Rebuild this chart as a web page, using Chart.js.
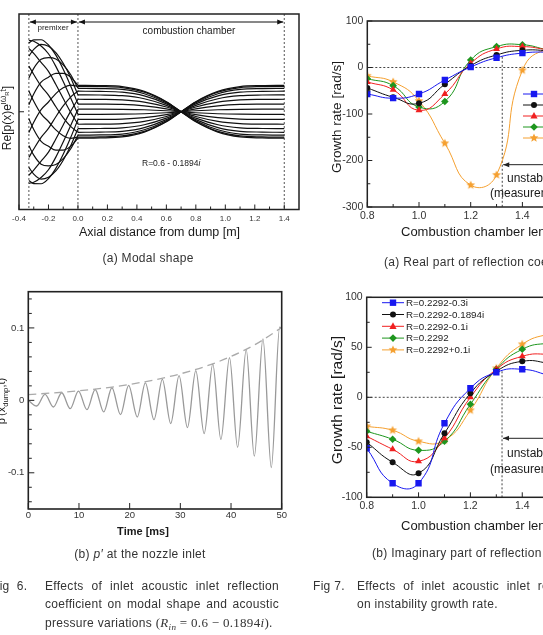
<!DOCTYPE html>
<html>
<head>
<meta charset="utf-8">
<script src="https://cdn.jsdelivr.net/npm/chart.js@4.4.1/dist/chart.umd.min.js"></script>
<style>
  body { margin: 0; width: 543px; height: 635px; overflow: hidden; position: relative; background: #fff;
         font-family: "Liberation Sans", Arial, sans-serif; color: #1a1a1a }
  canvas { position: absolute }
  .t { position: absolute; white-space: nowrap; line-height: 1; transform: translate(0, -50%) }
  .c { transform: translate(-50%, -50%) }
  .r { transform: translate(-50%, -50%) rotate(-90deg) }
  .cap { font-size: 12px; color: #333; letter-spacing: 0.3px }
  .j { text-align: justify; text-align-last: justify; white-space: normal }
  .m { font-family: "Liberation Serif", serif; font-size: 13px }
  sup, sub { font-size: 70%; line-height: 0 }
</style>
</head>
<body>
<canvas id="modal" width="300" height="240" style="left:0;top:0"></canvas>
<canvas id="pulse" width="300" height="250" style="left:0;top:280px"></canvas>
<canvas id="realPart" width="340" height="240" style="left:300px;top:0"></canvas>
<canvas id="imagPart" width="340" height="240" style="left:300px;top:285px"></canvas>

<!-- Fig 6 (a) -->
<div class="t c" style="left:53px;top:28px;font-size:8px">premixer</div>
<div class="t c" style="left:189px;top:30.5px;font-size:10px">combustion chamber</div>
<div class="t" style="left:142px;top:163px;font-size:8.5px">R=0.6 - 0.1894<i>i</i></div>
<div class="t r" style="left:7px;top:118px;font-size:12px">Re[p(x)e<sup>iω<sub>R</sub>t</sup>]</div>
<div class="t c" style="left:159.5px;top:232px;font-size:12.5px">Axial distance from dump [m]</div>
<div class="t c cap" style="left:148px;top:258px">(a) Modal shape</div>

<!-- Fig 6 (b) -->
<div class="t r" style="left:0.5px;top:401px;font-size:11px">p′(x<sub>dump</sub>,t)</div>
<div class="t c" style="left:143px;top:531px;font-size:11px;font-weight:bold">Time [ms]</div>
<div class="t c cap" style="left:140px;top:554px">(b) <i>p′</i> at the nozzle inlet</div>

<!-- Fig 7 (a) -->
<div class="t r" style="left:337px;top:117px;font-size:13.5px">Growth rate [rad/s]</div>
<div class="t" style="left:401px;top:231px;font-size:13px">Combustion chamber length [m]</div>
<div class="t" style="left:507px;top:178px;font-size:12px">unstable</div>
<div class="t" style="left:490px;top:193px;font-size:12px">(measurement)</div>
<div class="t cap" style="left:384px;top:262px">(a) Real part of reflection coefficient</div>

<!-- Fig 7 (b) -->
<div class="t r" style="left:337px;top:400px;font-size:15.5px">Growth rate [rad/s]</div>
<div class="t" style="left:401px;top:525px;font-size:13px">Combustion chamber length [m]</div>
<div class="t" style="left:507px;top:453px;font-size:12px">unstable</div>
<div class="t" style="left:490px;top:469px;font-size:12px">(measurement)</div>
<div class="t cap" style="left:372px;top:553px">(b) Imaginary part of reflection coefficient</div>

<!-- captions -->
<div class="t cap" style="left:-8px;top:586px">Fig&nbsp;&nbsp;6.</div>
<div class="t cap j" style="left:45px;top:586px;width:234px">Effects of inlet acoustic inlet reflection</div>
<div class="t cap j" style="left:45px;top:604px;width:234px">coefficient on modal shape and acoustic</div>
<div class="t cap" style="left:45px;top:622px">pressure variations <span class="m">(<i>R</i><sub><i>in</i></sub> = 0.6 − 0.1894<i>i</i>)</span>.</div>
<div class="t cap" style="left:313px;top:586px">Fig 7.</div>
<div class="t cap" style="left:357px;top:586px;word-spacing:4px">Effects of inlet acoustic inlet reflection coefficients</div>
<div class="t cap" style="left:357px;top:604px">on instability growth rate.</div>

<script>
// modal shape, Re[p(x) e^(i w t)] at 16 phases
const premixerX = [-0.333, -0.3, -0.25, -0.2, -0.15, -0.1, -0.05, 0]
const premixerCurves = [
  [0.995, 0.980, 0.914, 0.807, 0.631, 0.420, 0.194, -0.036],
  [0.882, 0.811, 0.687, 0.562, 0.379, 0.184, -0.005, -0.174],
  [0.635, 0.519, 0.356, 0.231, 0.069, -0.081, -0.204, -0.286],
  [0.290, 0.146, -0.030, -0.136, -0.253, -0.333, -0.370, -0.354],
  [-0.098, -0.247, -0.411, -0.481, -0.535, -0.534, -0.482, -0.368],
  [-0.471, -0.603, -0.729, -0.753, -0.735, -0.653, -0.519, -0.326],
  [-0.773, -0.868, -0.937, -0.911, -0.824, -0.674, -0.478, -0.235],
  [-0.957, -1.001, -1.002, -0.929, -0.787, -0.592, -0.363, -0.107],
  [-0.995, -0.980, -0.914, -0.807, -0.631, -0.420, -0.194, 0.036],
  [-0.882, -0.811, -0.687, -0.562, -0.379, -0.184, 0.005, 0.174],
  [-0.635, -0.519, -0.356, -0.231, -0.069, 0.081, 0.204, 0.286],
  [-0.290, -0.146, 0.030, 0.136, 0.253, 0.333, 0.370, 0.354],
  [0.098, 0.247, 0.411, 0.481, 0.535, 0.534, 0.482, 0.368],
  [0.471, 0.603, 0.729, 0.753, 0.735, 0.653, 0.519, 0.326],
  [0.773, 0.868, 0.937, 0.911, 0.824, 0.674, 0.478, 0.235],
  [0.957, 1.001, 1.002, 0.929, 0.787, 0.592, 0.363, 0.107]
]
const chamberX = [0, 0.15, 0.3, 0.45, 0.6, 0.7, 0.8, 0.95, 1.1, 1.25, 1.4]
const chamberCurves = [
  [-0.036, -0.036, -0.034, -0.028, -0.014, 0, 0.014, 0.028, 0.034, 0.036, 0.036],
  [-0.174, -0.172, -0.165, -0.134, -0.066, 0, 0.066, 0.134, 0.165, 0.172, 0.174],
  [-0.286, -0.283, -0.272, -0.220, -0.109, 0, 0.109, 0.220, 0.272, 0.283, 0.286],
  [-0.354, -0.350, -0.336, -0.273, -0.135, 0, 0.135, 0.273, 0.336, 0.350, 0.354],
  [-0.368, -0.364, -0.350, -0.283, -0.140, 0, 0.140, 0.283, 0.350, 0.364, 0.368],
  [-0.326, -0.323, -0.310, -0.251, -0.124, 0, 0.124, 0.251, 0.310, 0.323, 0.326],
  [-0.235, -0.233, -0.223, -0.181, -0.089, 0, 0.089, 0.181, 0.223, 0.233, 0.235],
  [-0.107, -0.106, -0.102, -0.082, -0.041, 0, 0.041, 0.082, 0.102, 0.106, 0.107],
  [0.036, 0.036, 0.034, 0.028, 0.014, 0, -0.014, -0.028, -0.034, -0.036, -0.036],
  [0.174, 0.172, 0.165, 0.134, 0.066, 0, -0.066, -0.134, -0.165, -0.172, -0.174],
  [0.286, 0.283, 0.272, 0.220, 0.109, 0, -0.109, -0.220, -0.272, -0.283, -0.286],
  [0.354, 0.350, 0.336, 0.273, 0.135, 0, -0.135, -0.273, -0.336, -0.350, -0.354],
  [0.368, 0.364, 0.350, 0.283, 0.140, 0, -0.140, -0.283, -0.350, -0.364, -0.368],
  [0.326, 0.323, 0.310, 0.251, 0.124, 0, -0.124, -0.251, -0.310, -0.323, -0.326],
  [0.235, 0.233, 0.223, 0.181, 0.089, 0, -0.089, -0.181, -0.223, -0.233, -0.235],
  [0.107, 0.106, 0.102, 0.082, 0.041, 0, -0.041, -0.082, -0.102, -0.106, -0.107]
]
const sectionBounds = [-0.333, 0, 1.4]
const modalXTicks = [-0.4, -0.2, 0, 0.2, 0.4, 0.6, 0.8, 1.0, 1.2, 1.4]
const modalXMinor = [-0.3, -0.1, 0.1, 0.3, 0.5, 0.7, 0.9, 1.1, 1.3]

// p' at the nozzle inlet
const pTime = [0, 1.65, 3.3, 4.96, 6.6, 8.27, 9.9, 11.57, 13.2, 14.88, 16.5, 18.19, 19.8, 21.5, 23.1, 24.8,
  26.45, 28.1, 29.75, 31.4, 33.05, 34.7, 36.4, 38.0, 39.7, 41.3, 43.0, 44.6, 46.3, 47.95, 49.6, 50]
const pValue = [0, -0.0078, 0.0083, -0.0092, 0.0105, -0.0115, 0.0128, -0.0128, 0.015, -0.016, 0.0174, -0.0197,
  0.0206, -0.023, 0.024, -0.0266, 0.029, -0.032, 0.034, -0.0376, 0.041, -0.0459, 0.050, -0.054, 0.059, -0.065,
  0.070, -0.077, 0.085, -0.0927, 0.101, 0.099]
const envTime = [0, 5, 10, 15, 20, 25, 30, 35, 40, 45, 50]
const envValue = [0.008, 0.0103, 0.0132, 0.017, 0.022, 0.0284, 0.0366, 0.047, 0.0606, 0.078, 0.1006]
const timeTicks = [0, 10, 20, 30, 40, 50]
const pTicks = [-0.1, 0, 0.1]
const pMinor = [-0.14, -0.12, -0.08, -0.06, -0.04, -0.02, 0.02, 0.04, 0.06, 0.08, 0.12, 0.14]

// growth rate vs combustion chamber length
const chamberLength = [0.8, 0.9, 1.0, 1.1, 1.2, 1.3, 1.4, 1.5, 1.6]
const realLabels = ['R=0.2-0.1894i', 'R=0.4-0.1894i', 'R=0.6-0.1894i', 'R=0.8-0.1894i', 'R=1.0-0.1894i']
const realBlue = [-57, -66, -57, -27, 1, 21, 31, 33, 30]
const realBlack = [-44, -64, -77, -36, 4, 27, 37, 36, 32]
const realRed = [-31, -48, -92, -57, 9, 40, 45, 38, 32]
const realGreen = [-24, -39, -85, -73, 16, 45, 49, 38, 31]
const realOrange = [-18, -31, -72, -163, -253, -231, -6, 40, 33]
const imagLabels = ['R=0.2292-0.3i', 'R=0.2292-0.1894i', 'R=0.2292-0.1i', 'R=0.2292', 'R=0.2292+0.1i']
const imagBlue = [-51, -86, -86, -26, 9, 25, 28, 22, 14]
const imagBlack = [-45, -65, -76, -36, 4, 26, 36, 34, 28]
const imagRed = [-39, -52, -64, -41, 0, 28, 41, 43, 40]
const imagGreen = [-34, -42, -53, -44, -7, 28, 48, 54, 54]
const imagOrange = [-29, -33, -44, -43, -13, 29, 53, 63, 66]
const lengthTicks = [0.8, 1.0, 1.2, 1.4, 1.6]
const lengthMinor = [0.9, 1.1, 1.3, 1.5]
const realTicks = [-300, -200, -100, 0, 100]
const realMinor = [-250, -150, -50, 50]
const imagTicks = [-100, -50, 0, 50, 100]
const imagMinor = [-75, -25, 25, 75]
const unstableFrom = 1.322

const base = {
  responsive: false, animation: false, devicePixelRatio: 1, events: [],
  plugins: { legend: { display: false }, tooltip: { enabled: false } }
}

function axis(min, max, ticks, size, fmt, pad, fit) {
  return {
    type: 'linear', min, max,
    grid: { display: false, drawTicks: false },
    border: { display: false },
    afterBuildTicks: s => { s.ticks = ticks.map(value => ({ value })) },
    afterFit: fit,
    ticks: { font: { family: 'Liberation Sans', size }, color: '#333', padding: pad,
             autoSkip: false, maxRotation: 0, callback: fmt }
  }
}

// box round the plot with inward tick marks
function frame(o) {
  return {
    id: 'frame',
    afterDatasetsDraw(chart) {
      const { ctx, chartArea: a, scales: { x, y } } = chart
      ctx.save()
      ctx.strokeStyle = '#222'
      ctx.lineWidth = 1
      const mark = (px, py, dx, dy) => { ctx.beginPath(); ctx.moveTo(px, py); ctx.lineTo(px + dx, py + dy); ctx.stroke() }
      ;(o.xMajor || []).forEach(v => mark(x.getPixelForValue(v), a.bottom, 0, -o.major))
      ;(o.xMinor || []).forEach(v => mark(x.getPixelForValue(v), a.bottom, 0, -o.minor))
      ;(o.yMajor || []).forEach(v => mark(a.left, y.getPixelForValue(v), o.major, 0))
      ;(o.yMinor || []).forEach(v => mark(a.left, y.getPixelForValue(v), o.minor, 0))
      ctx.lineWidth = o.width || 1.5
      ctx.strokeRect(a.left, a.top, a.right - a.left, a.bottom - a.top)
      ctx.restore()
    }
  }
}

function arrowHead(ctx, x, y, dir) {
  ctx.beginPath()
  ctx.moveTo(x, y)
  ctx.lineTo(x - dir * 6, y - 2.5)
  ctx.lineTo(x - dir * 6, y + 2.5)
  ctx.closePath()
  ctx.fill()
}

function starImage(color, r) {
  const c = document.createElement('canvas')
  const s = Math.ceil(r * 2 + 2)
  c.width = c.height = s
  const g = c.getContext('2d')
  g.fillStyle = color
  g.beginPath()
  for (let i = 0; i < 10; i++) {
    const ang = -Math.PI / 2 + i * Math.PI / 5
    const rr = i % 2 ? r * 0.45 : r
    g.lineTo(s / 2 + rr * Math.cos(ang), s / 2 + rr * Math.sin(ang))
  }
  g.closePath()
  g.fill()
  return c
}

function drawMarker(ctx, style, x, y, color) {
  if (style instanceof HTMLCanvasElement) { ctx.drawImage(style, x - style.width / 2, y - style.height / 2); return }
  ctx.fillStyle = color
  ctx.beginPath()
  if (style === 'rect') ctx.rect(x - 3.2, y - 3.2, 6.4, 6.4)
  else if (style === 'circle') ctx.arc(x, y, 3, 0, Math.PI * 2)
  else if (style === 'triangle') { ctx.moveTo(x, y - 4); ctx.lineTo(x + 3.6, y + 2.6); ctx.lineTo(x - 3.6, y + 2.6); ctx.closePath() }
  else if (style === 'rectRot') { ctx.moveTo(x, y - 3.8); ctx.lineTo(x + 3.8, y); ctx.lineTo(x, y + 3.8); ctx.lineTo(x - 3.8, y); ctx.closePath() }
  ctx.fill()
}

// ---------- Fig 6 (a) modal shape ----------
function curve(xs, ys) {
  return { data: xs.map((x, i) => ({ x, y: ys[i] })), borderColor: '#111', borderWidth: 1.2,
           pointRadius: 0, showLine: true, cubicInterpolationMode: 'monotone' }
}
const modalSets = premixerCurves.map(row => curve(premixerX, row))
  .concat(chamberCurves.map(row => curve(chamberX, row)))

const modalDecor = {
  id: 'modalDecor',
  beforeDatasetsDraw(chart) {
    const { ctx, chartArea: a, scales: { x } } = chart
    ctx.save()
    ctx.strokeStyle = '#555'
    ctx.lineWidth = 1
    ctx.setLineDash([2, 2])
    sectionBounds.forEach(v => {
      const px = x.getPixelForValue(v)
      ctx.beginPath(); ctx.moveTo(px, a.top); ctx.lineTo(px, a.bottom); ctx.stroke()
    })
    ctx.restore()
  },
  afterDatasetsDraw(chart) {
    const { ctx, chartArea: a, scales: { x } } = chart
    const y = a.top + 8
    ctx.save()
    ctx.strokeStyle = '#111'
    ctx.fillStyle = '#111'
    ctx.lineWidth = 1
    for (let i = 0; i < sectionBounds.length - 1; i++) {
      const x1 = x.getPixelForValue(sectionBounds[i]) + 1
      const x2 = x.getPixelForValue(sectionBounds[i + 1]) - 1
      ctx.beginPath(); ctx.moveTo(x1, y); ctx.lineTo(x2, y); ctx.stroke()
      arrowHead(ctx, x1, y, -1)
      arrowHead(ctx, x2, y, 1)
    }
    ctx.restore()
  }
}

new Chart(document.getElementById('modal'), {
  type: 'scatter',
  data: { datasets: modalSets },
  options: {
    ...base,
    layout: { padding: { top: 14, right: 1, left: 0, bottom: 0 } },
    scales: {
      x: axis(-0.4, 1.5, modalXTicks, 8, v => v.toFixed(1), 4, s => { s.height = 30.5 }),
      y: { ...axis(-1.36, 1.36, [0], 8, () => '', 0, s => { s.width = 19 }), ticks: { display: false } }
    }
  },
  plugins: [modalDecor, frame({ xMajor: modalXTicks, xMinor: modalXMinor, yMajor: [0], major: 5, minor: 3, width: 1.5 })]
})

// ---------- Fig 6 (b) p' at the nozzle inlet ----------
new Chart(document.getElementById('pulse'), {
  type: 'scatter',
  data: {
    datasets: [
      { data: envTime.map((x, i) => ({ x, y: envValue[i] })), borderColor: '#aaa', borderWidth: 1.3,
        borderDash: [8, 5], pointRadius: 0, showLine: true, cubicInterpolationMode: 'monotone' },
      { data: pTime.map((x, i) => ({ x, y: pValue[i] })), borderColor: '#999', borderWidth: 1.3,
        pointRadius: 0, showLine: true, cubicInterpolationMode: 'monotone' }
    ]
  },
  options: {
    ...base,
    layout: { padding: { top: 11.7, right: 18.3, left: 0, bottom: 0 } },
    scales: {
      x: axis(0, 50, timeTicks, 9.5, v => String(v), 1, s => { s.height = 21 }),
      y: axis(-0.15, 0.15, pTicks, 9.5, v => v === 0 ? '0' : v.toFixed(1), 4, s => { s.width = 28.3 })
    }
  },
  plugins: [frame({ xMajor: timeTicks, yMajor: pTicks, yMinor: pMinor, major: 6, minor: 3.5, width: 1.6 })]
})

// ---------- Fig 7 growth rate ----------
const starMark = starImage('#f5a030', 4.6)
const seriesStyle = [
  { color: '#1818f0', style: 'rect', radius: 4.5 },
  { color: '#111111', style: 'circle', radius: 3 },
  { color: '#f02020', style: 'triangle', radius: 4 },
  { color: '#1e961e', style: 'rectRot', radius: 3.8 },
  { color: '#f5a030', style: starMark, radius: 4.6 }
]

function growthSets(labels, rows) {
  return rows.map((ys, k) => ({
    label: labels[k],
    data: chamberLength.map((x, i) => ({ x, y: ys[i] })),
    borderColor: seriesStyle[k].color, backgroundColor: seriesStyle[k].color,
    pointStyle: seriesStyle[k].style, pointRadius: seriesStyle[k].radius, pointBorderWidth: 0,
    borderWidth: 1, tension: 0.5, showLine: true
  }))
}

function growthDecor(o) {
  return {
    id: 'growthDecor',
    beforeDatasetsDraw(chart) {
      const { ctx, chartArea: a, scales: { x, y } } = chart
      const seg = (x1, y1, x2, y2) => { ctx.beginPath(); ctx.moveTo(x1, y1); ctx.lineTo(x2, y2); ctx.stroke() }
      ctx.save()
      ctx.strokeStyle = '#444'
      ctx.lineWidth = 1
      ctx.setLineDash([2, 2])
      const y0 = y.getPixelForValue(0)
      seg(a.left, y0, a.right, y0)
      const ux = x.getPixelForValue(unstableFrom)
      seg(ux, y.getPixelForValue(o.markTop), ux, a.bottom)
      ctx.setLineDash([])
      ctx.strokeStyle = '#222'
      ctx.fillStyle = '#222'
      const ay = y.getPixelForValue(o.arrowAt)
      seg(ux + 1, ay, a.right, ay)
      arrowHead(ctx, ux + 1, ay, -1)
      ctx.restore()
    },
    afterDatasetsDraw(chart) {
      const { ctx } = chart
      ctx.save()
      ctx.font = o.font
      ctx.textBaseline = 'middle'
      chart.data.datasets.forEach((d, i) => {
        const ly = o.legendY + i * o.legendDy
        ctx.strokeStyle = d.borderColor
        ctx.lineWidth = 1
        ctx.beginPath(); ctx.moveTo(o.legendX, ly); ctx.lineTo(o.legendX + 22, ly); ctx.stroke()
        drawMarker(ctx, d.pointStyle, o.legendX + 11, ly, d.borderColor)
        ctx.fillStyle = '#222'
        ctx.fillText(d.label, o.legendX + 24, ly + 0.5)
      })
      ctx.restore()
    }
  }
}

new Chart(document.getElementById('realPart'), {
  type: 'scatter',
  data: { datasets: growthSets(realLabels, [realBlue, realBlack, realRed, realGreen, realOrange]) },
  options: {
    ...base,
    layout: { padding: { top: 21, right: 65.9, left: 0, bottom: 0 } },
    scales: {
      x: axis(0.8, 1.6, lengthTicks, 10.5, v => v.toFixed(1), 3, s => { s.height = 33 }),
      y: axis(-300, 100, realTicks, 10.5, v => String(v), 4, s => { s.width = 67.3 })
    }
  },
  plugins: [
    growthDecor({ markTop: 23, arrowAt: -209, legendX: 223, legendY: 94, legendDy: 11, font: '9.8px "Liberation Sans"' }),
    frame({ xMajor: lengthTicks, xMinor: lengthMinor, yMajor: realTicks, yMinor: realMinor, major: 5, minor: 3, width: 1.5 })
  ]
})

new Chart(document.getElementById('imagPart'), {
  type: 'scatter',
  data: { datasets: growthSets(imagLabels, [imagBlue, imagBlack, imagRed, imagGreen, imagOrange]) },
  options: {
    ...base,
    layout: { padding: { top: 12.3, right: 65.9, left: 0, bottom: 0 } },
    scales: {
      x: axis(0.8, 1.6, lengthTicks, 10.5, v => v.toFixed(1), 3, s => { s.height = 27.7 }),
      y: axis(-100, 100, imagTicks, 10.5, v => String(v), 4, s => { s.width = 66.7 })
    }
  },
  plugins: [
    growthDecor({ markTop: 26, arrowAt: -41, legendX: 82, legendY: 17.7, legendDy: 11.8, font: '9.8px "Liberation Sans"' }),
    frame({ xMajor: lengthTicks, xMinor: lengthMinor, yMajor: imagTicks, yMinor: imagMinor, major: 5, minor: 3, width: 1.5 })
  ]
})
</script>
</body>
</html>
